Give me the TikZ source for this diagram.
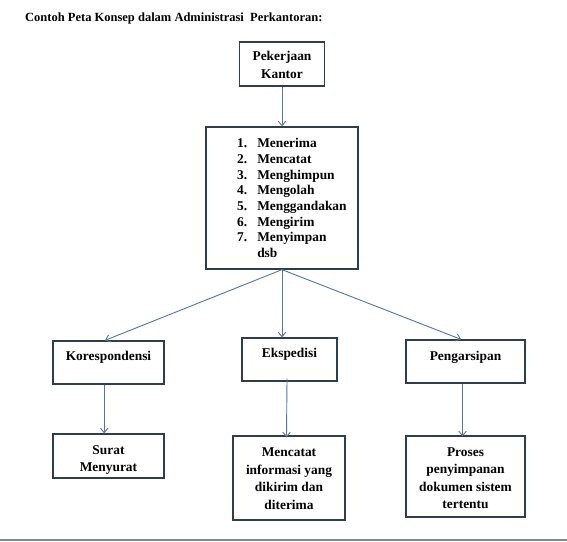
\documentclass[tikz,border=0pt]{standalone}
\usepackage{fontspec}
\setmainfont{Liberation Serif}[BoldFont={Liberation Serif Bold}]
\usetikzlibrary{arrows.meta}
\definecolor{boxline}{HTML}{2E3E50}
\definecolor{arrowline}{HTML}{557799}
\definecolor{rulegray}{HTML}{808A88}
\newcommand{\boxlines}[1]{\begin{tabular}[t]{@{}c@{}}#1\end{tabular}}
\tikzset{
  conceptbox/.style={draw=boxline, line width=1.3pt, fill=white, inner sep=0pt},
  boxtext/.style={anchor=base, inner sep=0pt, font=\fontsize{13.4}{17.5}\selectfont\bfseries},
  link/.style={draw=arrowline, line width=0.9pt, -{Straight Barb[length=4.5pt,width=7.5pt]}},
}
\begin{document}
\begin{tikzpicture}[x=1pt,y=-1pt]
\useasboundingbox (0,0) rectangle (567,541);
\fill[white] (0,0) rectangle (567,541);
% bottom rule
\draw[rulegray, line width=2pt] (0,540) -- (567,540);
% title
\node[anchor=base west, inner sep=0pt, font=\fontsize{12.5}{15}\selectfont\bfseries] (title) at (25,21) {Contoh Peta Konsep dalam Administrasi\ \ Perkantoran:};
% boxes
\node[conceptbox, minimum width=85pt, minimum height=44pt] (pk) at (282,64) {};
\node[conceptbox, minimum width=152pt, minimum height=142pt] (list) at (282,198) {};
\node[conceptbox, minimum width=111pt, minimum height=43pt] (kor) at (108.5,362.5) {};
\node[conceptbox, minimum width=95pt, minimum height=43pt] (eks) at (289.5,359.5) {};
\node[conceptbox, minimum width=119pt, minimum height=43pt] (pen) at (465.5,361.5) {};
\node[conceptbox, minimum width=111pt, minimum height=44pt] (surat) at (108.5,456) {};
\node[conceptbox, minimum width=112pt, minimum height=84pt] (mencatat) at (289,478) {};
\node[conceptbox, minimum width=119pt, minimum height=81pt] (proses) at (465.5,476.5) {};
% texts
\node[boxtext] (pkt) at (282,60.5) {\boxlines{Pekerjaan\\Kantor}};
\node[boxtext, anchor=base west] (listt) at (237,147.6) {\fontsize{13.4}{15.7}\selectfont
  \begin{tabular}[t]{@{}l@{\hspace{10pt}}l@{}}
  1. & Menerima\\
  2. & Mencatat\\
  3. & Menghimpun\\
  4. & Mengolah\\
  5. & Menggandakan\\
  6. & Mengirim\\
  7. & Menyimpan\\
     & dsb
  \end{tabular}};
\node[boxtext] (kort) at (108.5,360.7) {Korespondensi};
\node[boxtext] (ekst) at (289.5,357.7) {Ekspedisi};
\node[boxtext] (pent) at (465.5,360) {Pengarsipan};
\node[boxtext] (suratt) at (108.5,454) {\boxlines{Surat\\Menyurat}};
\node[boxtext] (mencatatt) at (289,456.7) {\boxlines{Mencatat\\informasi yang\\dikirim dan\\diterima}};
\node[boxtext] (prosest) at (465.5,456) {\boxlines{Proses\\penyimpanan\\dokumen sistem\\tertentu}};
% connectors
\draw[link] (pk.south) -- (list.north);
\draw[link] (list.south) -- ([xshift=-3.5pt]kor.north);
\draw[link] (list.south) -- (list.south |- eks.north);
\draw[link] (list.south) -- ([xshift=-4.5pt]pen.north);
\draw[link] ([xshift=-4.3pt]kor.south) -- ([xshift=-4.3pt]surat.north);
\draw[link] ([xshift=-2.5pt,yshift=3pt]eks.south) -- ([xshift=-2.5pt,yshift=-2pt]mencatat.north);
\draw[link] ([xshift=-3pt]pen.south) -- ([xshift=-3pt,yshift=-1pt]proses.north);
\end{tikzpicture}
\end{document}
